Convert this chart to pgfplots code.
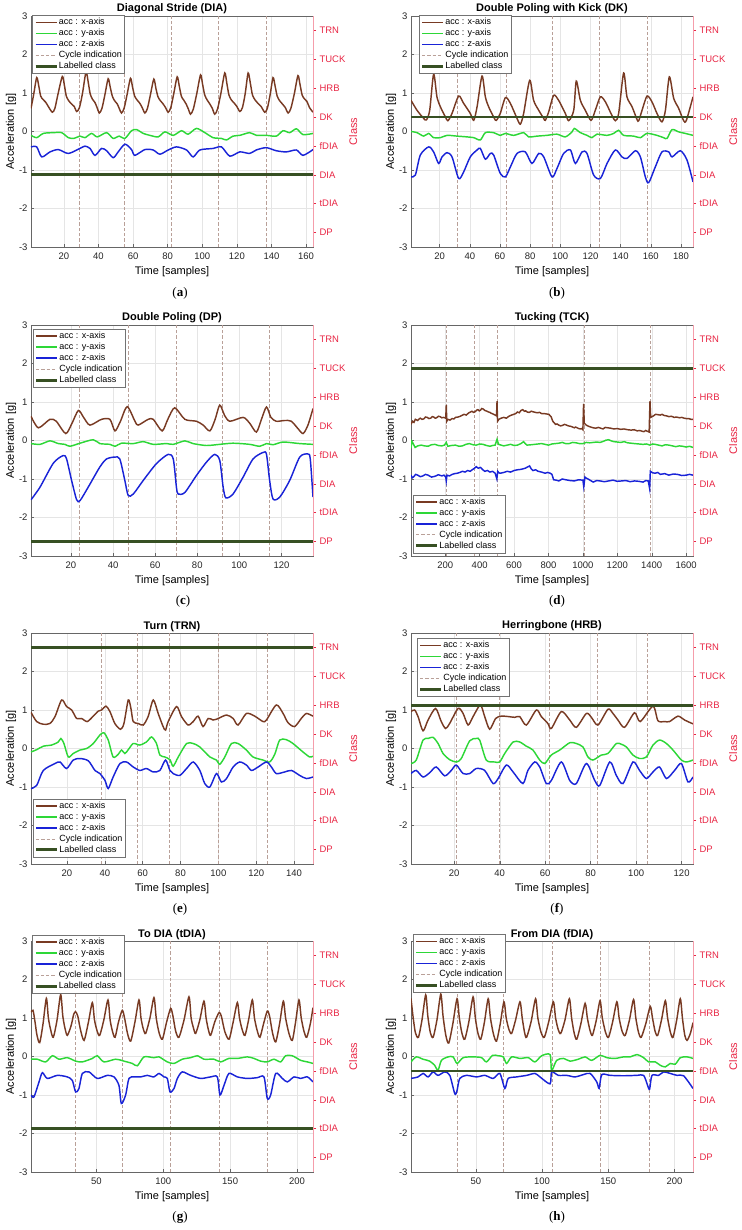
\documentclass[border=0pt]{standalone}
\usepackage{fontspec}
\setmainfont{Liberation Sans}
\newfontfamily\capfont{Liberation Serif}
\usepackage{pgfplots}
\pgfplotsset{compat=1.18}

\definecolor{cx}{RGB}{120,58,35}
\definecolor{cy}{RGB}{45,215,55}
\definecolor{cz}{RGB}{25,35,215}
\definecolor{clab}{RGB}{55,80,35}
\definecolor{ccyc}{RGB}{185,160,152}
\definecolor{cred}{RGB}{232,38,68}

\tikzset{
  accx/.style={draw=cx, line width=1.45pt},
  accy/.style={draw=cy, line width=1.45pt},
  accz/.style={draw=cz, line width=1.45pt},
  cyc/.style={draw=ccyc, line width=0.6pt, dash pattern=on 3.3pt off 2pt},
  lab/.style={draw=clab, line width=2.8pt},
}
\pgfplotsset{
  panelbase/.style={scale only axis, width=282pt, height=231pt, anchor=north west},
  mainax/.style={panelbase,
    ymin=-3, ymax=3, ytick={-3,-2,-1,0,1,2,3},
    /pgf/number format/assume math mode=true,
    /pgf/number format/1000 sep={},
    scaled x ticks=false,
    tick pos=left, tick align=inside, major tick length=3pt,
    axis line style={draw=black!60, line width=0.5pt},
    tick style={draw=black!60, line width=0.4pt},
    grid=major, major grid style={draw=black!10, line width=0.4pt},
    ticklabel style={font=\fontsize{9.5}{11}\selectfont, text=black!85},
    xticklabel style={yshift=-2pt},
    label style={font=\fontsize{11}{13}\selectfont},
    xlabel={Time [samples]}, ylabel={Acceleration [g]}, ylabel shift=-4pt,
    every axis title/.style={at={(0.5,1)}, anchor=south, inner sep=1.5pt, font=\bfseries\fontsize{11}{13}\selectfont},
    legend cell align=left,
    legend style={font=\fontsize{9}{9}\selectfont, draw=black!55, fill=white, inner sep=1.5pt, row sep=0pt,
      nodes={inner sep=1pt, text height=7pt, text depth=2pt}},
    legend image code/.code={\draw[##1] (0pt,0pt) -- (21pt,0pt);},
  },
  rightax/.style={panelbase, axis y line*=right, axis x line=none, xmin=0, xmax=1,
    ymin=0.5, ymax=8.5, ytick={1,2,3,4,5,6,7,8},
    yticklabels={DP,tDIA,DIA,fDIA,DK,HRB,TUCK,TRN},
    y axis line style={draw=cred!45, line width=0.5pt},
    ytick style={draw=cred, line width=0.4pt}, tick align=outside, major tick length=3pt,
    yticklabel style={font=\fontsize{9.5}{11}\selectfont, text=cred},
    ylabel={Class}, ylabel shift=-3pt, ylabel style={font=\fontsize{11}{13}\selectfont, text=cred}},
}
\newcommand{\legimgs}{\addlegendimage{accx}\addlegendimage{accy}\addlegendimage{accz}\addlegendimage{cyc}\addlegendimage{lab}}
\newcommand{\accleg}{\legend{acc : x-axis, acc : y-axis, acc : z-axis, Cycle indication, Labelled class}}
\newcommand{\rightaxis}[1]{\begin{axis}[rightax, at={#1}]\addplot[draw=none] coordinates {(0.5,1)};\end{axis}}

\begin{document}
\begin{tikzpicture}
\path[use as bounding box] (0pt,0pt) rectangle (741pt,-1230pt);

% ---------------- (a) ----------------
\begin{axis}[mainax, at={(31pt,-16pt)}, xmin=1, xmax=164, xtick={20,40,...,160},
  title={Diagonal Stride (DIA)}, legend style={at={(0.005,1.004)}, anchor=north west}]
\legimgs
\addplot[cyc, forget plot] coordinates {(29,-3) (29,3)};
\addplot[cyc, forget plot] coordinates {(55,-3) (55,3)};
\addplot[cyc, forget plot] coordinates {(82,-3) (82,3)};
\addplot[cyc, forget plot] coordinates {(109,-3) (109,3)};
\addplot[cyc, forget plot] coordinates {(137,-3) (137,3)};
\addplot[accx, smooth, tension=0.45, forget plot] coordinates {(1,0.60) (2.5,0.95) (4.3,1.40) (5.5,1.18) (6.6,0.92) (8,0.83) (9.5,0.76) (11,0.65) (13.3,0.50) (14.8,0.60) (16.5,0.95) (19.1,1.43) (20.3,1.20) (21.4,0.92) (22.8,0.80) (24.3,0.72) (26,0.65) (27.4,0.52) (29,0.62) (30.8,1.00) (32.8,1.55) (34,1.30) (35.2,0.98) (36.5,0.84) (38,0.75) (39.2,0.62) (40.5,0.48) (42,0.60) (43.7,0.95) (45.6,1.37) (46.8,1.15) (48,0.92) (49.3,0.80) (50.8,0.72) (52,0.60) (53.3,0.48) (54.8,0.60) (56.5,0.95) (58.5,1.38) (59.7,1.15) (60.9,0.92) (62.3,0.82) (63.8,0.74) (65.3,0.62) (66.8,0.48) (68.3,0.60) (70,0.95) (72,1.36) (73.2,1.12) (74.4,0.90) (75.8,0.80) (77.3,0.72) (78.8,0.62) (80.3,0.50) (81.8,0.62) (83.5,0.98) (85.5,1.42) (86.7,1.18) (87.9,0.92) (89.2,0.82) (90.6,0.72) (92,0.58) (93.2,0.45) (94.8,0.58) (96.8,0.98) (99,1.47) (100.2,1.22) (101.4,0.95) (102.8,0.82) (104.3,0.72) (105.8,0.60) (107.2,0.45) (108.8,0.58) (110.8,1.00) (113,1.52) (114.2,1.25) (115.4,0.95) (116.8,0.82) (118.4,0.74) (120,0.65) (121.7,0.52) (123.2,0.62) (124.8,0.98) (126.5,1.52) (127.8,1.25) (129,0.95) (130.5,0.82) (132,0.74) (134,0.65) (136.1,0.50) (137.6,0.60) (139.2,0.95) (140.9,1.40) (142.1,1.18) (143.3,0.92) (144.7,0.80) (146.2,0.72) (148,0.62) (149.6,0.48) (151.2,0.60) (153.2,0.98) (155.3,1.45) (156.5,1.22) (157.7,0.95) (159,0.85) (160.5,0.78) (162,0.62) (164,0.50)};
\addplot[accy, smooth, tension=0.45, forget plot] coordinates {(1,-0.10) (4.3,-0.16) (8.1,-0.05) (13.9,-0.03) (18.7,-0.03) (22.6,-0.16) (25.8,-0.18) (29.3,-0.12) (32.2,-0.16) (36,-0.05) (39.3,-0.14) (44.7,-0.03) (48.5,-0.18) (52,-0.12) (55.3,-0.18) (59.1,0.02) (62,0.05) (65.9,-0.05) (69.7,-0.10) (74.5,-0.14) (78.4,-0.01) (83.2,-0.10) (88,0.02) (91.8,-0.07) (96.6,0.08) (101.5,-0.03) (106.3,-0.16) (111.1,-0.18) (114,-0.22) (117.8,-0.12) (121.7,-0.10) (127.4,-0.03) (131.3,-0.10) (137.1,-0.10) (142.8,-0.12) (146.7,0.02) (150.5,-0.03) (154.4,0.07) (158.2,-0.08) (164,-0.05)};
\addplot[accz, smooth, tension=0.45, forget plot] coordinates {(1,-0.40) (4.3,-0.40) (7.2,-0.66) (12,-0.53) (16.8,-0.47) (22.6,-0.57) (29.3,-0.44) (32.2,-0.38) (35.1,-0.44) (38,-0.62) (41.8,-0.44) (44.7,-0.50) (48.5,-0.68) (51.4,-0.53) (55.3,-0.33) (59.1,-0.47) (61,-0.62) (66.8,-0.47) (71.6,-0.48) (75.5,-0.59) (80.3,-0.48) (85.1,-0.40) (90.9,-0.48) (94.7,-0.66) (98.6,-0.48) (106.3,-0.44) (111.1,-0.40) (115.9,-0.64) (121.7,-0.53) (127.4,-0.57) (131.2,-0.48) (137,-0.42) (142.8,-0.50) (148.6,-0.53) (154.4,-0.48) (158.2,-0.62) (164,-0.47)};
\addplot[lab, forget plot] coordinates {(1,-1.125) (164,-1.125)};
\accleg
\end{axis}
\rightaxis{(31pt,-16pt)}

% ---------------- (b) ----------------
\begin{axis}[mainax, at={(411pt,-16pt)}, xmin=1, xmax=188, xtick={20,40,...,180},
  title={Double Poling with Kick (DK)}, legend style={at={(0.028,1.004)}, anchor=north west}]
\legimgs
\addplot[cyc, forget plot] coordinates {(32,-3) (32,3)};
\addplot[cyc, forget plot] coordinates {(64,-3) (64,3)};
\addplot[cyc, forget plot] coordinates {(95,-3) (95,3)};
\addplot[cyc, forget plot] coordinates {(126,-3) (126,3)};
\addplot[cyc, forget plot] coordinates {(158,-3) (158,3)};
\addplot[accx, smooth, tension=0.45, forget plot] coordinates {(1,0.81) (5,0.55) (9.4,0.34) (11.2,0.30) (13.4,0.55) (16,1.49) (18.2,0.90) (20.5,0.64) (23.8,0.38) (25.5,0.28) (28.2,0.47) (32.6,0.92) (35.9,0.73) (40.3,0.47) (42.6,0.29) (44.8,0.64) (48.1,1.44) (50.3,0.90) (52.5,0.64) (56.3,0.34) (57.6,0.29) (60.2,0.47) (63.6,0.88) (66.9,0.73) (71.3,0.34) (73.5,0.19) (75.7,0.47) (79.7,1.33) (82.3,0.81) (85.7,0.55) (89,0.34) (90.1,0.29) (92.3,0.51) (95.6,0.94) (98.9,0.81) (103.3,0.47) (105.6,0.28) (108.9,0.55) (110.6,1.31) (113.3,0.81) (116.6,0.55) (120.4,0.29) (123.2,0.55) (126.6,0.90) (129.9,0.77) (133.6,0.47) (136.5,0.28) (138.7,0.47) (142,1.52) (144.2,0.90) (147.6,0.64) (150.9,0.31) (152,0.28) (154.2,0.55) (157.5,0.92) (160.8,0.77) (164.1,0.47) (167.4,0.25) (169.7,0.55) (172.3,1.42) (175.2,0.86) (178.5,0.60) (181.8,0.28) (183.6,0.29) (188,0.90)};
\addplot[accy, smooth, tension=0.45, forget plot] coordinates {(1,0.00) (5,-0.03) (9.4,-0.12) (12.7,-0.05) (16,-0.16) (20.5,-0.16) (24.9,-0.10) (31.5,-0.12) (38.1,-0.14) (42.6,-0.16) (47,-0.22) (50.3,-0.03) (55.8,-0.03) (60.2,-0.10) (63.6,-0.05) (69.1,-0.10) (75.7,-0.03) (79,-0.14) (84.6,-0.12) (91.2,-0.10) (97.8,-0.07) (103.3,-0.14) (107.8,-0.01) (109.3,0.08) (113.3,-0.03) (117.7,-0.10) (121,-0.16) (124.3,-0.07) (131,-0.10) (135.4,-0.05) (138.7,0.03) (142,-0.10) (148.7,-0.12) (153.1,-0.16) (157.5,-0.05) (164.1,-0.10) (168.5,-0.16) (170.8,-0.18) (174.1,0.05) (178.5,-0.01) (182.9,-0.05) (188,-0.10)};
\addplot[accz, smooth, tension=0.45, forget plot] coordinates {(1,-1.18) (3.9,-1.13) (7.2,-0.61) (12.7,-0.40) (16,-0.53) (19.3,-0.83) (21.6,-0.66) (24.9,-0.55) (28.2,-0.66) (32.6,-1.22) (35.9,-1.05) (40.3,-0.66) (44.8,-0.48) (47,-0.44) (50.3,-0.72) (53.6,-0.57) (55.8,-0.61) (60.2,-1.09) (63.6,-1.18) (66.9,-0.92) (71.3,-0.57) (76.8,-0.53) (81.2,-0.83) (85.7,-0.57) (89,-0.66) (94.5,-1.18) (97.8,-0.96) (102.2,-0.57) (106.7,-0.48) (110,-0.83) (114.4,-0.53) (117.7,-0.57) (122.1,-1.13) (126.6,-1.22) (131,-0.83) (136.5,-0.48) (140.9,-0.66) (144.2,-0.70) (149.8,-0.50) (153.1,-0.66) (156.4,-1.18) (158.6,-1.33) (163,-0.92) (167.4,-0.53) (171.9,-0.53) (174.1,-0.66) (179.6,-0.50) (184,-0.74) (188,-1.31)};
\addplot[lab, forget plot] coordinates {(1,0.375) (188,0.375)};
\accleg
\end{axis}
\rightaxis{(411pt,-16pt)}

% ---------------- (c) ----------------
\begin{axis}[mainax, at={(31pt,-325pt)}, xmin=1, xmax=135, xtick={20,40,...,120},
  title={Double Poling (DP)}, legend style={at={(0.007,0.983)}, anchor=north west}]
\legimgs
\addplot[cyc, forget plot] coordinates {(24,-3) (24,3)};
\addplot[cyc, forget plot] coordinates {(47,-3) (47,3)};
\addplot[cyc, forget plot] coordinates {(70,-3) (70,3)};
\addplot[cyc, forget plot] coordinates {(92,-3) (92,3)};
\addplot[cyc, forget plot] coordinates {(114,-3) (114,3)};
\addplot[accx, smooth, tension=0.45, forget plot] coordinates {(1,0.63) (4.5,0.33) (10,0.55) (13,0.50) (17.5,0.18) (20.5,0.45) (23.5,0.78) (26,0.60) (29,0.40) (34.5,0.55) (38.5,0.55) (40.9,0.25) (43.5,0.50) (46.7,0.88) (50.4,0.50) (51.9,0.40) (56.7,0.55) (59.1,0.55) (63.3,0.25) (66,0.55) (69.3,0.85) (74.1,0.55) (79.6,0.50) (82.8,0.40) (86,0.25) (88.5,0.55) (90.7,0.92) (93,0.65) (95.5,0.50) (101.8,0.60) (104.9,0.45) (108.1,0.22) (110.5,0.55) (112.9,0.87) (115,0.60) (117.6,0.50) (121.6,0.52) (124.7,0.50) (128,0.30) (130.3,0.18) (132.6,0.40) (135,0.83)};
\addplot[accy, smooth, tension=0.45, forget plot] coordinates {(1,-0.08) (5.3,-0.10) (10,-0.01) (14,-0.08) (17.1,-0.10) (19.5,-0.15) (24.3,-0.07) (30.6,0.02) (33.7,-0.08) (38.5,-0.10) (40.9,-0.15) (44,-0.07) (49.6,-0.08) (54.3,-0.03) (59.1,-0.10) (65.4,-0.08) (68.6,-0.10) (74.1,-0.01) (78,-0.08) (84.4,-0.13) (90.7,-0.10) (97,-0.07) (104.9,-0.10) (109.7,-0.15) (112.9,-0.08) (116,-0.11) (120.8,-0.04) (128.7,-0.08) (135,-0.10)};
\addplot[accz, smooth, tension=0.45, forget plot] coordinates {(1,-1.54) (5.3,-1.21) (11.6,-0.59) (16.3,-0.39) (17.9,-0.48) (20.3,-1.04) (22.7,-1.54) (24.3,-1.56) (28.2,-1.21) (33.7,-0.69) (36.9,-0.48) (40.9,-0.43) (43.2,-0.48) (45.6,-1.04) (47.2,-1.43) (49.6,-1.39) (54.3,-1.04) (60.6,-0.60) (66.2,-0.36) (68.6,-0.48) (70.1,-1.21) (70.9,-1.39) (74.1,-1.35) (79.6,-0.91) (84.4,-0.56) (88.3,-0.36) (90.7,-0.52) (92.3,-1.21) (93.6,-1.49) (97,-1.39) (101.8,-0.95) (106.5,-0.48) (111.3,-0.31) (112.9,-0.36) (114.4,-1.04) (116,-1.52) (119.2,-1.47) (123.9,-1.04) (128.7,-0.43) (132.6,-0.35) (133.7,-0.48) (135,-1.47)};
\addplot[lab, forget plot] coordinates {(1,-2.625) (135,-2.625)};
\accleg
\end{axis}
\rightaxis{(31pt,-325pt)}

% ---------------- (d) ----------------
\begin{axis}[mainax, at={(411pt,-325pt)}, xmin=1, xmax=1640, xtick={200,400,...,1600},
  title={Tucking (TCK)}, legend style={at={(0.007,0.013)}, anchor=south west}]
\legimgs
\addplot[cyc, forget plot] coordinates {(206,-3) (206,3)};
\addplot[cyc, forget plot] coordinates {(371,-3) (371,3)};
\addplot[cyc, forget plot] coordinates {(501,-3) (501,3)};
\addplot[cyc, forget plot] coordinates {(1006,-3) (1006,3)};
\addplot[cyc, forget plot] coordinates {(1390,-3) (1390,3)};
\addplot[accx, forget plot] coordinates {(1,0.42) (10,0.50) (18,0.47) (26,0.55) (40,0.52) (48,0.56) (55,0.58) (65,0.55) (75,0.56) (85,0.61) (95,0.60) (105,0.57) (115,0.58) (125,0.62) (133,0.61) (142,0.58) (150,0.59) (160,0.63) (170,0.62) (180,0.59) (191,0.60) (203,0.58) (206,0.92) (209,0.50) (215,0.55) (228,0.53) (240,0.57) (250,0.56) (260,0.60) (275,0.61) (288,0.63) (300,0.66) (310,0.68) (322,0.66) (337,0.72) (346,0.74) (355,0.76) (365,0.73) (375,0.75) (383,0.79) (390,0.80) (398,0.77) (405,0.79) (412,0.83) (420,0.82) (430,0.78) (443,0.76) (452,0.74) (460,0.73) (466,0.71) (472,0.70) (482,0.68) (490,0.66) (498,0.64) (501,1.02) (504,0.50) (512,0.55) (525,0.58) (540,0.60) (555,0.58) (570,0.63) (585,0.66) (598,0.68) (610,0.70) (620,0.74) (630,0.72) (640,0.78) (650,0.80) (660,0.76) (668,0.77) (676,0.74) (688,0.73) (700,0.76) (715,0.74) (734,0.72) (748,0.73) (760,0.70) (773,0.70) (788,0.69) (802,0.68) (815,0.62) (825,0.50) (833,0.46) (841,0.42) (850,0.43) (860,0.40) (870,0.38) (880,0.39) (893,0.42) (905,0.40) (915,0.38) (928,0.37) (940,0.35) (950,0.33) (958,0.35) (967,0.33) (976,0.31) (985,0.30) (993,0.31) (1000,0.28) (1004,0.95) (1008,0.45) (1015,0.42) (1020,0.40) (1032,0.37) (1045,0.35) (1060,0.33) (1075,0.32) (1090,0.34) (1103,0.32) (1117,0.30) (1130,0.34) (1145,0.33) (1161,0.32) (1180,0.30) (1200,0.31) (1220,0.29) (1239,0.30) (1260,0.28) (1280,0.27) (1298,0.28) (1316,0.25) (1330,0.26) (1345,0.24) (1355,0.23) (1365,0.26) (1375,0.24) (1385,0.22) (1390,1.02) (1394,0.60) (1402,0.62) (1410,0.64) (1423,0.68) (1437,0.67) (1450,0.66) (1460,0.68) (1472,0.65) (1486,0.64) (1500,0.62) (1515,0.63) (1530,0.60) (1545,0.61) (1560,0.59) (1575,0.60) (1588,0.58) (1600,0.57) (1615,0.57) (1628,0.55) (1640,0.55)};
\addplot[accy, forget plot] coordinates {(1,-0.20) (6,-0.02) (10,-0.05) (18,-0.12) (25,-0.18) (40,-0.14) (60,-0.12) (80,-0.14) (100,-0.15) (120,-0.11) (140,-0.10) (160,-0.13) (180,-0.14) (195,-0.12) (206,-0.05) (215,-0.15) (235,-0.13) (260,-0.12) (280,-0.15) (300,-0.14) (320,-0.10) (340,-0.08) (360,-0.11) (380,-0.12) (400,-0.09) (420,-0.10) (440,-0.13) (460,-0.15) (475,-0.13) (490,-0.12) (501,0.03) (510,-0.10) (525,-0.12) (540,-0.14) (560,-0.12) (580,-0.10) (600,-0.13) (620,-0.12) (640,-0.08) (655,-0.03) (665,-0.08) (675,-0.12) (700,-0.11) (720,-0.10) (740,-0.09) (760,-0.08) (780,-0.10) (800,-0.12) (820,-0.09) (840,-0.08) (860,-0.07) (880,-0.05) (900,-0.08) (920,-0.08) (940,-0.05) (960,-0.06) (980,-0.08) (1000,-0.08) (1020,-0.05) (1040,-0.06) (1060,-0.05) (1080,-0.04) (1100,-0.05) (1120,-0.02) (1135,0.01) (1150,0.02) (1165,-0.01) (1180,-0.03) (1200,-0.04) (1220,-0.05) (1240,-0.03) (1260,-0.06) (1280,-0.07) (1300,-0.08) (1325,-0.09) (1350,-0.10) (1370,-0.09) (1390,-0.12) (1405,-0.09) (1420,-0.10) (1440,-0.12) (1460,-0.14) (1480,-0.11) (1500,-0.12) (1520,-0.14) (1540,-0.16) (1560,-0.14) (1580,-0.15) (1600,-0.17) (1620,-0.15) (1640,-0.18)};
\addplot[accz, forget plot] coordinates {(1,-0.90) (8,-0.97) (15,-0.95) (28,-0.88) (40,-0.90) (55,-0.94) (70,-0.92) (85,-0.88) (100,-0.90) (120,-0.95) (140,-0.93) (160,-0.89) (180,-0.92) (193,-0.90) (203,-0.95) (206,-1.05) (210,-0.90) (225,-0.92) (240,-0.88) (255,-0.86) (270,-0.85) (285,-0.83) (300,-0.80) (315,-0.82) (330,-0.78) (345,-0.80) (360,-0.75) (370,-0.72) (380,-0.68) (392,-0.72) (405,-0.70) (418,-0.76) (430,-0.80) (445,-0.78) (460,-0.82) (475,-0.80) (490,-0.85) (500,-1.00) (505,-0.80) (512,-0.84) (520,-0.85) (540,-0.83) (560,-0.80) (580,-0.82) (600,-0.78) (620,-0.76) (640,-0.75) (665,-0.72) (690,-0.66) (700,-0.74) (710,-0.78) (725,-0.76) (740,-0.80) (760,-0.82) (780,-0.85) (795,-0.83) (810,-0.85) (820,-0.88) (830,-1.02) (845,-1.03) (860,-1.05) (880,-1.00) (900,-1.02) (925,-1.04) (950,-1.05) (975,-1.02) (1000,-1.03) (1005,-1.20) (1012,-0.95) (1020,-0.98) (1030,-1.00) (1045,-1.04) (1060,-1.08) (1080,-1.04) (1100,-1.05) (1125,-1.07) (1150,-1.05) (1175,-1.03) (1200,-1.06) (1225,-1.05) (1250,-1.04) (1275,-1.07) (1300,-1.05) (1325,-1.06) (1350,-1.08) (1365,-1.04) (1380,-1.05) (1388,-1.25) (1392,-0.80) (1405,-0.84) (1420,-0.85) (1435,-0.83) (1450,-0.88) (1475,-0.86) (1500,-0.90) (1525,-0.87) (1550,-0.88) (1575,-0.91) (1600,-0.90) (1620,-0.88) (1640,-0.90)};
\addplot[lab, forget plot] coordinates {(1,1.875) (1640,1.875)};
\accleg
\end{axis}
\rightaxis{(411pt,-325pt)}

% ---------------- (e) ----------------
\begin{axis}[mainax, at={(31pt,-633pt)}, xmin=1, xmax=150, xtick={20,40,...,140},
  title={Turn (TRN)}, legend style={at={(0.007,0.03)}, anchor=south west}]
\legimgs
\addplot[cyc, forget plot] coordinates {(38,-3) (38,3)};
\addplot[cyc, forget plot] coordinates {(57,-3) (57,3)};
\addplot[cyc, forget plot] coordinates {(74,-3) (74,3)};
\addplot[cyc, forget plot] coordinates {(100,-3) (100,3)};
\addplot[cyc, forget plot] coordinates {(126,-3) (126,3)};
\addplot[accx, smooth, tension=0.45, forget plot] coordinates {(1,0.94) (4,0.70) (7.5,0.63) (11,0.65) (13.7,0.83) (17.2,1.26) (19.8,1.09) (22.5,1.00) (25.1,0.78) (27.7,0.78) (30.7,0.70) (33.9,0.84) (36.5,0.97) (38.3,1.00) (40.6,1.10) (42.7,0.96) (45.3,0.65) (48.3,0.50) (50.1,0.65) (52.4,1.26) (53.8,1.04) (55,0.70) (57.6,0.65) (60.3,0.61) (62.9,0.83) (65.6,1.26) (68.2,0.91) (70.8,0.57) (72.1,0.48) (73.5,0.70) (77.9,1.09) (80.5,0.83) (84,0.61) (86.7,0.70) (89.3,0.84) (91.9,0.57) (94.6,0.78) (97.2,0.74) (99,0.76) (104.3,0.87) (107.8,0.78) (110.4,0.61) (114.8,0.91) (119.2,0.84) (123.6,0.70) (125.4,0.74) (130.6,1.13) (134.2,0.91) (136.8,0.67) (140.3,0.57) (143.8,0.78) (146.5,0.91) (150,0.84)};
\addplot[accy, smooth, tension=0.45, forget plot] coordinates {(1,-0.09) (4,-0.03) (7.5,0.06) (11.9,0.09) (15.4,0.17) (16.8,0.26) (18.4,0.13) (20.7,-0.22) (23.3,-0.13) (26.9,-0.04) (30.4,0.00) (33.9,0.13) (37.4,0.35) (39.5,0.41) (41.8,0.22) (44.4,-0.22) (47.1,-0.15) (48.8,-0.04) (50.6,-0.13) (52.4,-0.03) (55,0.13) (58.5,0.09) (62,0.17) (64.7,0.30) (67.3,0.13) (69.1,-0.17) (71.7,-0.22) (74.4,-0.29) (76.1,-0.46) (78.8,-0.22) (83.2,0.13) (86.7,0.13) (90.2,0.04) (95.5,-0.22) (99,-0.30) (100.7,-0.41) (103.4,-0.22) (106.9,0.13) (110.4,0.13) (114.8,-0.04) (118.3,-0.22) (123.6,-0.30) (127.1,-0.35) (129.8,-0.15) (132.4,0.22) (135.9,0.23) (139.4,0.13) (144.7,-0.09) (148.2,-0.22) (150,-0.20)};
\addplot[accz, smooth, tension=0.45, forget plot] coordinates {(1,-1.04) (4,-0.96) (7.5,-0.57) (13.7,-0.39) (16.3,-0.35) (19.8,-0.52) (23.3,-0.30) (26.9,-0.26) (31.3,-0.32) (34.8,-0.57) (37.4,-0.65) (40.1,-0.83) (41.8,-1.04) (44.4,-0.74) (48,-0.39) (51.5,-0.35) (55,-0.48) (58.5,-0.57) (62,-0.52) (65.6,-0.61) (69.1,-0.57) (72.1,-0.30) (74.4,-0.57) (76.1,-0.65) (79.6,-0.70) (83.2,-0.52) (86.7,-0.35) (90.2,-0.57) (92.8,-0.91) (95.5,-1.00) (99,-0.65) (101.6,-0.87) (104.3,-0.78) (107.8,-0.48) (111.3,-0.35) (114.8,-0.43) (117.5,-0.57) (121,-0.48) (125.4,-0.35) (128,-0.48) (130.6,-0.65) (135,-0.61) (138.6,-0.57) (143,-0.70) (146.5,-0.78) (150,-0.74)};
\addplot[lab, forget plot] coordinates {(1,2.625) (150,2.625)};
\accleg
\end{axis}
\rightaxis{(31pt,-633pt)}

% ---------------- (f) ----------------
\begin{axis}[mainax, at={(411pt,-633pt)}, xmin=1, xmax=125, xtick={20,40,...,120},
  title={Herringbone (HRB)}, legend style={at={(0.021,0.978)}, anchor=north west}]
\legimgs
\addplot[cyc, forget plot] coordinates {(21,-3) (21,3)};
\addplot[cyc, forget plot] coordinates {(40,-3) (40,3)};
\addplot[cyc, forget plot] coordinates {(62,-3) (62,3)};
\addplot[cyc, forget plot] coordinates {(83,-3) (83,3)};
\addplot[cyc, forget plot] coordinates {(105,-3) (105,3)};
\addplot[accx, smooth, tension=0.45, forget plot] coordinates {(1,0.96) (2.6,1.00) (4.1,0.83) (6.3,0.46) (8.5,0.74) (11.8,1.04) (14.3,0.70) (16.2,0.52) (18,0.65) (21.7,1.04) (23.9,0.91) (26.1,0.61) (28.3,0.83) (31.5,1.13) (33.4,0.83) (35.6,0.50) (38.2,0.78) (40.7,0.84) (43.7,0.83) (46.6,0.81) (48.8,0.83) (51.7,0.61) (56.1,1.00) (58.3,0.83) (61.2,0.65) (62.7,0.52) (67.1,0.96) (70.8,0.74) (73.7,0.55) (78.1,0.91) (80.3,0.81) (83.2,0.61) (87.6,1.02) (89.8,0.91) (92,0.74) (94.9,0.55) (99.3,0.93) (101.8,0.70) (107.4,1.10) (109.6,0.72) (112.5,0.70) (114.7,0.70) (118.4,0.84) (121.3,0.74) (125,0.64)};
\addplot[accy, smooth, tension=0.45, forget plot] coordinates {(1,-0.39) (3.3,-0.30) (6.3,0.22) (8.5,0.26) (10.7,0.29) (12.9,0.13) (15.1,-0.13) (18,-0.29) (20.9,-0.35) (23.1,-0.26) (26.8,0.20) (29.7,0.26) (31.2,0.22) (34.1,-0.30) (37.8,-0.35) (40,-0.35) (42.2,-0.13) (45.9,0.17) (48.8,0.17) (51.7,0.06) (54.6,-0.04) (57.6,-0.30) (59.8,-0.39) (62.7,-0.17) (66.4,-0.04) (70.8,0.15) (73.7,0.13) (76.6,0.04) (78.8,-0.22) (81,-0.30) (84.7,-0.17) (87.6,-0.13) (91.3,0.13) (93.5,0.11) (95.7,0.04) (98.6,-0.17) (101.5,-0.26) (104.5,-0.22) (107.4,0.09) (110.3,0.22) (113.3,0.13) (116.2,-0.04) (119.9,-0.30) (122.1,-0.35) (125,-0.30)};
\addplot[accz, smooth, tension=0.45, forget plot] coordinates {(1,-0.65) (3.3,-0.57) (6.3,-0.74) (9.2,-0.63) (12.1,-0.48) (15.8,-0.71) (18.7,-0.57) (20.9,-0.43) (23.9,-0.65) (26.8,-0.65) (29.7,-0.52) (33.4,-0.57) (37.1,-0.91) (39.3,-0.78) (42.9,-0.43) (45.9,-0.61) (50.2,-0.91) (52.4,-0.57) (55.4,-0.35) (57.6,-0.48) (60.5,-0.91) (62.7,-0.83) (67.1,-0.35) (70.8,-0.83) (73.7,-0.91) (78.1,-0.39) (81.8,-0.83) (84,-0.96) (88.4,-0.35) (91.3,-0.70) (94.2,-0.91) (98.6,-0.35) (101.5,-0.57) (104.5,-0.78) (107.4,-0.61) (110.3,-0.48) (113.3,-0.78) (116.9,-0.57) (119.9,-0.39) (122.8,-0.87) (125,-0.74)};
\addplot[lab, forget plot] coordinates {(1,1.125) (125,1.125)};
\accleg
\end{axis}
\rightaxis{(411pt,-633pt)}

% ---------------- (g) ----------------
\begin{axis}[mainax, at={(31pt,-941pt)}, xmin=1, xmax=212, xtick={50,100,150,200},
  title={To DIA (tDIA)}, legend style={at={(0.005,1.026)}, anchor=north west}]
\legimgs
\addplot[cyc, forget plot] coordinates {(34,-3) (34,3)};
\addplot[cyc, forget plot] coordinates {(69,-3) (69,3)};
\addplot[cyc, forget plot] coordinates {(105,-3) (105,3)};
\addplot[cyc, forget plot] coordinates {(142,-3) (142,3)};
\addplot[cyc, forget plot] coordinates {(178,-3) (178,3)};
\addplot[accx, smooth, tension=0.45, forget plot] coordinates {(1,1.15) (2.5,1.20) (4,0.90) (5.5,0.55) (7.5,0.36) (10,0.85) (12.5,1.51) (14,1.00) (15.8,0.68) (17.7,0.50) (20.5,0.95) (23.2,1.61) (24.8,1.05) (26.5,0.72) (28.2,0.55) (31,0.80) (33,1.10) (34.4,1.16) (36,1.05) (38,0.70) (40.7,0.42) (44,0.90) (46.9,1.40) (48.5,0.95) (50.5,0.66) (52.4,0.55) (55.5,0.95) (58.6,1.47) (60.2,0.95) (62,0.65) (63.9,0.50) (66.5,0.90) (69.3,1.20) (71,1.00) (73.2,0.60) (75.6,0.40) (78.8,0.90) (81.8,1.47) (83.3,1.00) (85,0.72) (86.8,0.60) (90,1.00) (93,1.53) (94.7,1.00) (96.8,0.62) (99.3,0.45) (102.5,0.90) (105.5,1.25) (107.2,1.05) (109.3,0.65) (111.7,0.50) (115.5,0.95) (119.2,1.55) (120.8,1.00) (122.5,0.75) (124.2,0.60) (127.3,0.95) (130.4,1.44) (132,1.00) (133.7,0.70) (135.4,0.55) (138.5,0.90) (141.7,1.14) (143.4,1.05) (146,0.65) (149.2,0.45) (152.3,0.90) (155.4,1.40) (157,1.00) (159,0.70) (161.1,0.55) (163.8,0.95) (166.6,1.47) (168.2,1.00) (170.2,0.68) (172.3,0.50) (175,0.85) (177.8,1.18) (179.5,1.05) (181.8,0.60) (184.1,0.38) (187,0.85) (189.8,1.44) (191.5,1.00) (194,0.60) (196.5,0.42) (199,0.90) (201.5,1.47) (203.2,1.00) (205.3,0.65) (207.3,0.50) (210,0.85) (212,1.27)};
\addplot[accy, smooth, tension=0.45, forget plot] coordinates {(1,-0.07) (5.7,-0.07) (12,-0.14) (17,0.02) (22,-0.07) (28.2,-0.03) (34.4,-0.12) (39.4,-0.14) (46.9,-0.05) (50.6,0.02) (55.6,-0.14) (64.4,-0.07) (70.6,-0.12) (76.8,-0.18) (80.6,-0.24) (85.6,-0.01) (93,-0.03) (96.8,-0.01) (103,-0.14) (108,-0.18) (114.2,-0.07) (120.5,-0.03) (125.5,0.02) (130.4,-0.07) (137.9,-0.07) (142.9,-0.14) (149.1,-0.05) (155.4,-0.05) (162.9,-0.01) (167.9,-0.05) (172.8,-0.12) (177.8,-0.14) (182.8,-0.07) (187.8,-0.14) (191.5,0.02) (196.5,0.02) (202.8,-0.10) (207.8,-0.14) (212,-0.18)};
\addplot[accz, smooth, tension=0.45, forget plot] coordinates {(1,-1.00) (3.2,-1.05) (7,-0.66) (9.5,-0.42) (13.2,-0.57) (20.7,-0.49) (28.2,-0.53) (31.9,-0.62) (34.4,-0.92) (36.9,-0.83) (39.4,-0.44) (44.4,-0.40) (50.6,-0.57) (58.1,-0.49) (63.1,-0.53) (66.8,-0.75) (68.6,-1.22) (71.8,-1.00) (74.3,-0.57) (78.1,-0.53) (83.1,-0.53) (88,-0.49) (93,-0.53) (96.8,-0.44) (100.5,-0.53) (103,-0.57) (105,-0.92) (108,-0.83) (110.5,-0.57) (114.2,-0.40) (120.5,-0.49) (128,-0.57) (135.4,-0.53) (140.4,-0.53) (142.4,-1.00) (145.4,-0.75) (149.1,-0.44) (155.4,-0.53) (162.9,-0.57) (170.3,-0.55) (175.3,-0.53) (177.8,-1.09) (180.3,-1.00) (184.1,-0.44) (189.1,-0.57) (192.8,-0.66) (197.8,-0.53) (202.8,-0.57) (207.8,-0.53) (212,-0.66)};
\addplot[lab, forget plot] coordinates {(1,-1.875) (212,-1.875)};
\accleg
\end{axis}
\rightaxis{(31pt,-941pt)}

% ---------------- (h) ----------------
\begin{axis}[mainax, at={(411pt,-941pt)}, xmin=1, xmax=214, xtick={50,100,150,200},
  title={From DIA (fDIA)}, legend style={at={(0.007,1.03)}, anchor=north west}]
\legimgs
\addplot[cyc, forget plot] coordinates {(36,-3) (36,3)};
\addplot[cyc, forget plot] coordinates {(71,-3) (71,3)};
\addplot[cyc, forget plot] coordinates {(108,-3) (108,3)};
\addplot[cyc, forget plot] coordinates {(144,-3) (144,3)};
\addplot[cyc, forget plot] coordinates {(181,-3) (181,3)};
\addplot[accx, smooth, tension=0.45, forget plot] coordinates {(1,1.51) (2.5,1.05) (4.3,0.62) (6.6,0.50) (9.3,0.95) (12.1,1.60) (13.7,1.05) (15.6,0.62) (17.7,0.50) (20.6,0.95) (23.5,1.62) (25.2,1.05) (27.3,0.55) (29.5,0.35) (32.6,0.85) (35.8,1.50) (37.5,1.00) (39.5,0.60) (41.6,0.45) (44.7,0.90) (47.9,1.55) (49.6,1.00) (51.6,0.60) (53.7,0.45) (56.5,0.90) (59.3,1.50) (61,1.00) (63.3,0.58) (65.6,0.40) (68.4,0.85) (71.2,1.42) (72.9,1.00) (75,0.70) (77,0.60) (80,0.95) (83.3,1.42) (85,1.00) (86.8,0.62) (88.3,0.50) (91.7,0.90) (95.1,1.50) (96.8,1.00) (99.3,0.62) (101.7,0.50) (105,0.90) (108.5,1.42) (110.2,1.00) (112.2,0.70) (114.1,0.60) (117.3,0.95) (120.6,1.50) (122.3,1.00) (124.3,0.60) (126.2,0.45) (129.3,0.85) (132.5,1.38) (134.2,1.00) (136.2,0.68) (138,0.55) (141,0.95) (143.8,1.45) (145.5,1.00) (148,0.62) (150.2,0.50) (153.3,0.90) (156.5,1.42) (158.2,1.00) (160.5,0.65) (162.8,0.55) (166,0.95) (169.1,1.48) (170.8,1.00) (172.9,0.62) (174.9,0.50) (178.3,0.85) (181.7,1.30) (183.4,1.00) (185.4,0.65) (187.3,0.55) (190.2,0.95) (193.1,1.45) (194.8,1.00) (197,0.62) (198.9,0.50) (201.7,0.95) (204.4,1.50) (206,1.00) (207.8,0.55) (209.5,0.42) (212,0.60) (214,0.88)};
\addplot[accy, smooth, tension=0.45, forget plot] coordinates {(1,-0.14) (5,-0.01) (10.1,-0.07) (15.1,-0.12) (18.9,-0.23) (21.4,-0.36) (24,-0.10) (29,-0.01) (32.8,-0.01) (35.8,-0.18) (40.4,-0.03) (47.9,-0.01) (54.3,-0.03) (58,-0.14) (62.6,0.03) (66.9,0.02) (70.7,-0.01) (73.2,-0.18) (77,-0.01) (83.3,-0.05) (89.6,-0.03) (94.6,-0.14) (99.7,0.02) (106,0.05) (107.2,-0.36) (111,-0.10) (116.1,-0.05) (121.1,-0.12) (127.4,-0.07) (132.5,-0.01) (137.5,-0.10) (143.8,0.03) (148.9,-0.03) (155.2,-0.05) (161.5,-0.01) (166.6,-0.01) (171.6,0.05) (176.7,-0.03) (180.4,-0.14) (185.5,-0.14) (189.3,-0.23) (193.1,-0.27) (196.8,-0.18) (200.6,-0.20) (204.4,-0.03) (209.5,-0.01) (214,-0.05)};
\addplot[accz, smooth, tension=0.45, forget plot] coordinates {(1,-0.57) (6.3,-0.53) (10.1,-0.44) (13.9,-0.53) (17.7,-0.40) (21.4,-0.49) (26.5,-0.40) (30.3,-0.49) (34.1,-0.97) (35.8,-0.88) (37.8,-0.57) (42.9,-0.49) (50.5,-0.53) (56.8,-0.49) (63.1,-0.57) (68.1,-0.44) (71.9,-0.83) (74.4,-0.57) (80.8,-0.53) (88.3,-0.49) (94.6,-0.44) (98.4,-0.53) (106,-0.71) (107.2,-0.40) (112.3,-0.49) (118.6,-0.49) (124.9,-0.53) (131.2,-0.47) (136.3,-0.44) (141.3,-0.66) (143.1,-0.83) (145.1,-0.47) (151.4,-0.49) (161.5,-0.50) (171.6,-0.49) (176.7,-0.49) (179.7,-0.75) (181.2,-0.85) (183,-0.49) (188,-0.49) (191.8,-0.40) (196.8,-0.44) (201.9,-0.49) (206.9,-0.50) (214,-0.83)};
\addplot[lab, forget plot] coordinates {(1,-0.375) (214,-0.375)};
\accleg
\end{axis}
\rightaxis{(411pt,-941pt)}

% ---------------- sub-captions ----------------
\node[font=\capfont\fontsize{13}{15}\selectfont] at (180pt,-293pt) {(\textbf{a})};
\node[font=\capfont\fontsize{13}{15}\selectfont] at (557pt,-293pt) {(\textbf{b})};
\node[font=\capfont\fontsize{13}{15}\selectfont] at (183pt,-601pt) {(\textbf{c})};
\node[font=\capfont\fontsize{13}{15}\selectfont] at (557pt,-601pt) {(\textbf{d})};
\node[font=\capfont\fontsize{13}{15}\selectfont] at (180pt,-909pt) {(\textbf{e})};
\node[font=\capfont\fontsize{13}{15}\selectfont] at (557pt,-909pt) {(\textbf{f})};
\node[font=\capfont\fontsize{13}{15}\selectfont] at (180pt,-1217pt) {(\textbf{g})};
\node[font=\capfont\fontsize{13}{15}\selectfont] at (557pt,-1217pt) {(\textbf{h})};
\end{tikzpicture}
\end{document}
